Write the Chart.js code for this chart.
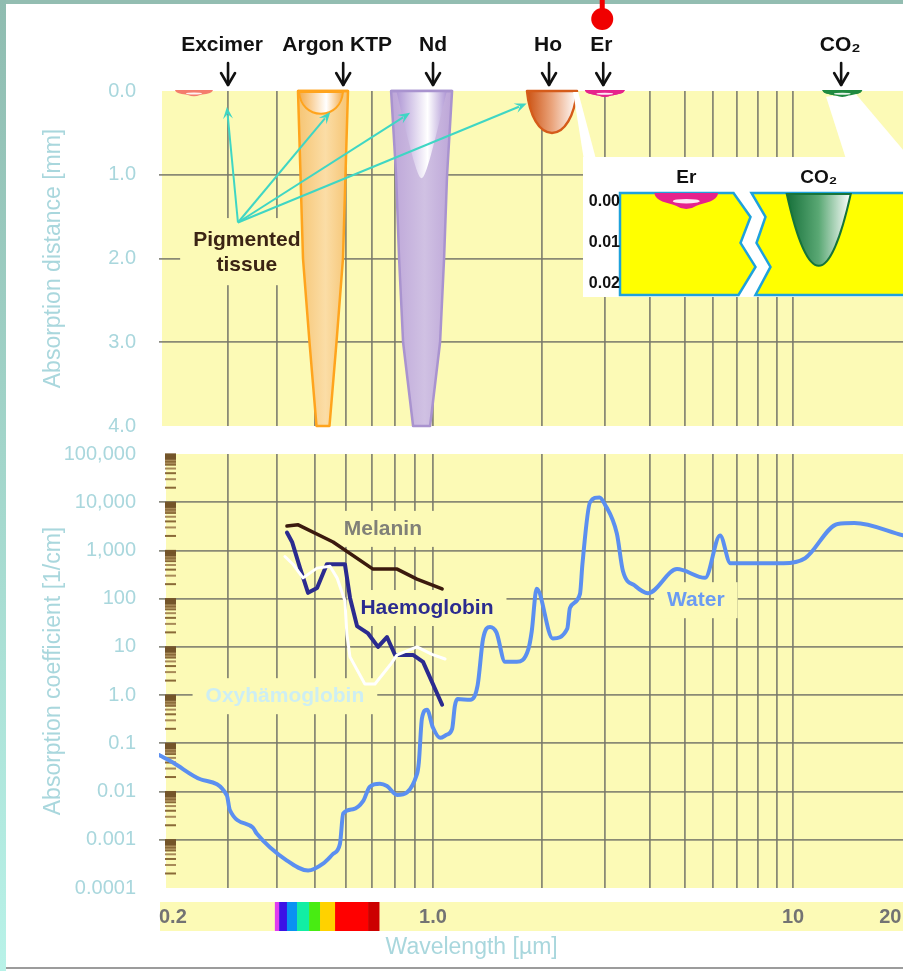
<!DOCTYPE html>
<html><head><meta charset="utf-8">
<script src="https://cdn.jsdelivr.net/npm/chart.js@4.4.1/dist/chart.umd.js"></script>
<style>
html,body{margin:0;padding:0;background:#fff;width:903px;height:971px;overflow:hidden;}
body{position:relative;}
canvas{position:absolute;}
.fr{position:absolute;}
</style></head><body>
<div class="fr" style="left:0;top:0;width:903px;height:4px;background:#93bdb1"></div>
<div class="fr" style="left:0;top:0;width:6px;height:971px;background:linear-gradient(#8fbcb0,#b8f2e8)"></div>
<div class="fr" style="left:6px;top:967px;width:897px;height:2px;background:#9c9c9c"></div>
<canvas id="cTop" width="903" height="440" style="left:0;top:0"></canvas>
<canvas id="cBottom" width="903" height="531" style="left:0;top:440px"></canvas>
<canvas id="cInset" width="320" height="140" style="left:583px;top:157px;background:#fff"></canvas>
<script>
// ---------------- DATA ----------------
const xGridValues = [0.3,0.4,0.5,0.6,0.7,0.8,0.9,1,2,3,4,5,6,7,8,9,10];
const xLabelValues = [0.2, 1, 10, 20];
const xLabelTexts = ['0.2', '1.0', '10', '20'];

const depthTicks = [0, 1, 2, 3, 4];
const depthLabels = ['0.0', '1.0', '2.0', '3.0', '4.0'];

const absTicks = [1e-4, 1e-3, 1e-2, 1e-1, 1, 10, 100, 1000, 10000, 100000];
const absLabels = ['0.0001','0.001','0.01','0.1','1.0','10','100','1,000','10,000','100,000'];

const waterWl = [0.2,0.217,0.255,0.298,0.303,0.347,0.355,0.424,0.48,0.524,0.556,0.579,0.59,0.625,0.663,0.69,0.732,0.763,0.81,0.91,0.92,0.937,0.965,1.0,1.046,1.09,1.13,1.15,1.17,1.27,1.33,1.377,1.44,1.5,1.585,1.71,1.84,1.88,1.94,2.15,2.36,2.4,2.56,2.6,2.73,2.9,3.0,3.24,3.37,3.64,3.95,4.76,5.7,6.27,6.7,9.4,10.8,13.3,14.8,20.2];
const waterAbs = [0.057,0.04,0.018,0.0083,0.0042,0.0018,0.00135,0.00037,0.00023,0.00032,0.00051,0.00083,0.0035,0.0043,0.0063,0.0126,0.0145,0.013,0.0085,0.023,0.04,0.33,0.5,0.21,0.13,0.15,0.2,0.6,0.83,0.8,1.6,14.6,26,20,4.9,4.9,9,21,160,15,24,64,126,520,10000,12600,9100,2240,370,185,130,410,270,2050,540,540,690,3550,3700,2050];

const haemoWl = [0.424,0.437,0.458,0.48,0.506,0.536,0.596,0.614,0.64,0.683,0.724,0.763,0.8,0.889,0.943,1.06];
const haemoAbs = [2350,1500,430,132,167,520,520,105,27,19,10,16,6.8,6.8,4.9,0.63];

const melaninWl = [0.424,0.453,0.556,0.703,0.81,0.91,1.06];
const melaninAbs = [3200,3400,1500,410,410,255,160];

const oxyWl = [0.419,0.44,0.466,0.506,0.546,0.569,0.596,0.603,0.614,0.67,0.711,0.777,0.81,0.91,0.994,1.08];
const oxyAbs = [750,510,270,430,470,270,91,18,6.2,1.7,1.7,4.2,6.8,10,7,5.6];

const laserNames = ['Excimer','Argon KTP','Nd','Ho','Er','CO\u2082'];
const laserWl = [0.30, 0.59, 1.0, 2.1, 2.97, 13.6];
const spotWl = [0.2456, 0.524, 0.935, 2.14, 3.0, 13.7];
const penetration = [0.07, 4.0, 4.0, 0.5, 0.08, 0.08];
const pigmentDepth = [0, 0.26, 1.03, 0, 0, 0];

const spectrumEdges = [0.395,0.405,0.424,0.45,0.483,0.515,0.5625,0.683,0.728];
const spectrumColors = ['#e03cf0','#3c12e6','#0a92f2','#12eea4','#48ec12','#ffd200','#ff0000','#cc0000'];

const insetLabels = ['Er', 'CO\u2082'];
const insetDepth = [0.0042, 0.0176];
const insetTicks = [0, 0.01, 0.02];
const insetTickLabels = ['0.00', '0.01', '0.02'];

// ---------------- STYLE / ANNOTATIONS ----------------
const FONT = "'Liberation Sans', Arial, Helvetica, sans-serif";
const YELLOW = '#fcfab6';
const GRID = 'rgba(118,118,106,0.85)';
const NONE = 'rgba(0,0,0,0)';
const TICK_BLUE = '#a9d7dd';

const laserStyle = [
  {kind:'cap', color:'#f47d6d', hw:19, dx:-6},
  {kind:'cone', hws:[25,22.5,20,13.5,6.5], body:['#f6c574','#fbdda6'], edge:'#ffa41d', bowl:['#f4ab48','#ffffff'], bowlHw:22, bowlShape:[0.95,0.55], bowlDx:-2, dx:-6},
  {kind:'cone', hws:[30.5,25.5,22.5,18.5,8.5], body:['#bda6d8','#d0c1e3'], edge:'#a993cf', bowl:['#b098d5','#ffffff'], bowlHw:25, bowlShape:[0.5,0.18], bowlDx:0, dx:0},
  {kind:'bowl', hw:25, colors:['#cc5212','#eaa47c','#ffffff'], edge:'#d55b1a', shape:[0.9,0.5], dx:-1},
  {kind:'cap', color:'#e6238c', hw:20, dx:-2},
  {kind:'cap', color:'#1f8a40', hw:20, dx:-1}
];
const pigmentLabel = {lines:['Pigmented','tissue'], x:0.335, y:[1.78, 2.08]};
const pigmentOrigin = {x:0.318, y:1.57};
const pigmentTips = [{x:0.298,y:0.19},{x:0.547,y:0.25},{x:0.874,y:0.26},{x:1.82,y:0.15}];
const calloutPolys = [
  [[2.45,0.012],[2.53,0.012],[2.83,0.8],[2.62,0.8]],
  [[12.35,0.07],[14.9,0.03],[20.2,0.7],[20.2,0.8],[14.0,0.8]]
];
const lowerLabels = [
  {text:'Melanin', x:0.745, y:2800, color:'#808078'},
  {text:'Haemoglobin', x:0.965, y:64, color:'#2b2b8f'},
  {text:'Oxyh\u00e4moglobin', x:0.419, y:0.95, color:'#cdeef4'},
  {text:'Water', x:5.37, y:93, color:'#6b9bf2'}
];
const xTitle = {text:'Wavelength [\u00b5m]', x:1.28};
const rugMultipliers = [2,3,4,5,6,6.5,7,7.5,8,8.5,9,9.3,9.6,9.8];

// ---------------- warped log scale (log axis with a finer decade below 1 µm) ----------------
class WarpLogScale extends Chart.LogarithmicScale {
  static id = 'warplog';
  static defaults = Chart.LogarithmicScale.defaults;
  _warp(v) { const l = Math.log10(v); return l < 0 ? l * 392 : l * 360; }
  getPixelForValue(v) {
    if (v === undefined || v === null || isNaN(v) || v <= 0) return NaN;
    const a = this._warp(this.min), b = this._warp(this.max);
    return this.getPixelForDecimal((this._warp(v) - a) / (b - a));
  }
  getValueForPixel(p) {
    const a = this._warp(this.min), b = this._warp(this.max);
    const w = a + this.getDecimalForPixel(p) * (b - a);
    return Math.pow(10, w < 0 ? w / 392 : w / 360);
  }
}
Chart.register(WarpLogScale);

const xy = (xs, ys) => xs.map((x, i) => ({x, y: ys[i]}));
const noPad = s => { s.paddingLeft = 0; s.paddingRight = 0; s.paddingTop = 0; s.paddingBottom = 0; };

// ---------------- drawing helpers ----------------
function capPath(ctx, cx, y0, hw, h) {
  ctx.beginPath();
  ctx.moveTo(cx - hw, y0 - 1);
  ctx.lineTo(cx + hw, y0 - 1);
  ctx.bezierCurveTo(cx + hw*0.95, y0 + h*0.45, cx + hw*0.6, y0 + h*0.5, cx + hw*0.32, y0 + h*0.68);
  ctx.quadraticCurveTo(cx, y0 + h*1.08, cx - hw*0.32, y0 + h*0.68);
  ctx.bezierCurveTo(cx - hw*0.6, y0 + h*0.5, cx - hw*0.95, y0 + h*0.45, cx - hw, y0 - 1);
  ctx.closePath();
}
function drawCap(ctx, cx, y0, hw, h, color) {
  capPath(ctx, cx, y0, hw, h);
  ctx.fillStyle = color; ctx.fill();
  ctx.fillStyle = 'rgba(255,255,255,0.9)';
  ctx.beginPath(); ctx.ellipse(cx, y0 + h*0.42, hw*0.42, Math.max(1, h*0.13), 0, 0, Math.PI*2); ctx.fill();
}
function bowlPath(ctx, cx, y0, hw, h, s, dx) {
  dx = dx || 0;
  ctx.beginPath();
  ctx.moveTo(cx - hw, y0);
  ctx.lineTo(cx + hw, y0);
  ctx.bezierCurveTo(cx + hw*s[0], y0 + h*0.6, cx + hw*s[1], y0 + h, cx + dx, y0 + h);
  ctx.bezierCurveTo(cx - hw*s[1], y0 + h, cx - hw*s[0], y0 + h*0.6, cx - hw, y0);
  ctx.closePath();
}
function hGrad(ctx, x0, x1, stops) {
  const g = ctx.createLinearGradient(x0, 0, x1, 0);
  stops.forEach(([o, c]) => g.addColorStop(o, c));
  return g;
}
function arrowLine(ctx, x0, y0, x1, y1, color) {
  const ang = Math.atan2(y1 - y0, x1 - x0), L = 12, W = 5;
  ctx.strokeStyle = color; ctx.fillStyle = color; ctx.lineWidth = 2;
  ctx.beginPath(); ctx.moveTo(x0, y0); ctx.lineTo(x1 - Math.cos(ang)*L*0.7, y1 - Math.sin(ang)*L*0.7); ctx.stroke();
  ctx.beginPath();
  ctx.moveTo(x1, y1);
  ctx.lineTo(x1 - Math.cos(ang)*L + Math.sin(ang)*W, y1 - Math.sin(ang)*L - Math.cos(ang)*W);
  ctx.lineTo(x1 - Math.cos(ang)*L*0.6, y1 - Math.sin(ang)*L*0.6);
  ctx.lineTo(x1 - Math.cos(ang)*L - Math.sin(ang)*W, y1 - Math.sin(ang)*L + Math.cos(ang)*W);
  ctx.closePath(); ctx.fill();
}

// ---------------- TOP CHART ----------------
const topPlugin = {
  id: 'topDecor',
  beforeDraw(chart) {
    const {ctx, chartArea: a} = chart;
    ctx.save(); ctx.fillStyle = YELLOW;
    ctx.fillRect(a.left + 3, a.top, a.right - a.left - 3, a.bottom - a.top);
    ctx.restore();
  },
  afterDraw(chart) {
    const {ctx} = chart; const xs = chart.scales.x, ys = chart.scales.y;
    const X = v => xs.getPixelForValue(v), Y = v => ys.getPixelForValue(v);
    const y0 = Y(0);
    ctx.save();
    ctx.font = `bold 21px ${FONT}`;
    const lx = X(pigmentLabel.x);
    const lw = Math.max(...pigmentLabel.lines.map(t => ctx.measureText(t).width));
    const yA = Y(pigmentLabel.y[0]), yB = Y(pigmentLabel.y[1]);
    ctx.fillStyle = YELLOW;
    ctx.fillRect(lx - lw/2 - 13, yA - 22, lw + 26, yB - yA + 42);
    ctx.fillStyle = '#3b2414'; ctx.textAlign = 'center'; ctx.textBaseline = 'middle';
    ctx.fillText(pigmentLabel.lines[0], lx, yA);
    ctx.fillText(pigmentLabel.lines[1], lx, yB);

    laserStyle.forEach((st, i) => {
      const cx = X(spotWl[i]);
      const h = Y(penetration[i]) - y0;
      if (st.kind === 'cap') {
        drawCap(ctx, cx, y0, st.hw, Math.max(h, 5), st.color);
      } else if (st.kind === 'cone') {
        const fr = [0, 0.25, 0.5, 0.75, 1];
        ctx.beginPath();
        fr.forEach((f, k) => { const px = cx - st.hws[k], py = Y(f*penetration[i]); k ? ctx.lineTo(px, py) : ctx.moveTo(px, py); });
        for (let k = fr.length - 1; k >= 0; k--) ctx.lineTo(cx + st.hws[k], Y(fr[k]*penetration[i]));
        ctx.closePath();
        ctx.fillStyle = hGrad(ctx, cx - st.hws[0], cx + st.hws[0], [[0, st.body[0]],[0.55, st.body[1]],[1, st.body[0]]]);
        ctx.fill();
        ctx.strokeStyle = st.edge; ctx.lineWidth = 2.5; ctx.lineJoin = 'round'; ctx.stroke();
        const bh = Y(pigmentDepth[i]) - y0;
        const bx = cx + st.bowlDx;
        bowlPath(ctx, bx, y0 + 1, st.bowlHw, bh, st.bowlShape);
        ctx.fillStyle = hGrad(ctx, bx - st.bowlHw, bx + st.bowlHw, [[0, st.bowl[0]],[0.62, st.bowl[1]],[1, st.bowl[0]]]);
        ctx.fill();
        if (i === 1) { ctx.strokeStyle = st.edge; ctx.lineWidth = 2; ctx.stroke(); }
        ctx.beginPath(); ctx.moveTo(cx - st.hws[0], y0); ctx.lineTo(cx + st.hws[0], y0);
        ctx.strokeStyle = st.edge; ctx.lineWidth = 2.5; ctx.stroke();
      } else {
        bowlPath(ctx, cx, y0, st.hw, h, st.shape);
        ctx.fillStyle = hGrad(ctx, cx - st.hw, cx + st.hw, [[0, st.colors[0]],[0.5, st.colors[1]],[1, st.colors[2]]]);
        ctx.fill();
        ctx.strokeStyle = st.edge; ctx.lineWidth = 2.5; ctx.stroke();
      }
    });

    const ox = X(pigmentOrigin.x), oy = Y(pigmentOrigin.y);
    pigmentTips.forEach(t => arrowLine(ctx, ox, oy, X(t.x), Y(t.y), '#3fd6c4'));

    ctx.fillStyle = '#ffffff';
    calloutPolys.forEach(poly => {
      ctx.beginPath();
      poly.forEach(([wx, d], k) => { const px = X(wx), py = Y(d); k ? ctx.lineTo(px, py) : ctx.moveTo(px, py); });
      ctx.closePath(); ctx.fill();
    });
    [4, 5].forEach(i => drawCap(ctx, X(spotWl[i]), y0, laserStyle[i].hw, Math.max(Y(penetration[i]) - y0, 5), laserStyle[i].color));

    ctx.font = `bold 21px ${FONT}`; ctx.strokeStyle = '#111';
    ctx.textAlign = 'center'; ctx.textBaseline = 'middle';
    laserNames.forEach((name, i) => {
      const ax = X(laserWl[i]);
      ctx.fillStyle = '#111';
      ctx.fillText(name, ax + laserStyle[i].dx, 45);
      ctx.lineWidth = 2.6; ctx.lineCap = 'round';
      ctx.beginPath(); ctx.moveTo(ax, 63); ctx.lineTo(ax, 85); ctx.stroke();
      ctx.beginPath(); ctx.moveTo(ax - 7, 73); ctx.lineTo(ax, 85); ctx.lineTo(ax + 7, 73); ctx.stroke();
    });
    const rx = X(laserWl[4]);
    ctx.fillStyle = '#f00000'; ctx.strokeStyle = '#f00000'; ctx.lineWidth = 5; ctx.lineCap = 'butt';
    ctx.beginPath(); ctx.moveTo(rx - 1, 0); ctx.lineTo(rx - 1, 12); ctx.stroke();
    ctx.beginPath(); ctx.arc(rx - 1, 19, 11, 0, Math.PI*2); ctx.fill();
    ctx.restore();
  }
};

new Chart(document.getElementById('cTop'), {
  type: 'line',
  data: { datasets: [] },
  options: {
    responsive: false, animation: false, events: [],
    layout: { padding: { top: 91, bottom: 14, left: 0, right: 0 } },
    plugins: { legend: { display: false }, tooltip: { enabled: false } },
    scales: {
      x: {
        type: 'warplog', min: 0.2, max: 20.2,
        afterBuildTicks: s => { s.ticks = xGridValues.map(v => ({value: v})); },
        afterFit: s => { s.height = 0; noPad(s); },
        ticks: { display: false },
        grid: { color: GRID, lineWidth: 1.8, drawTicks: false },
        border: { display: false }
      },
      y: {
        type: 'linear', min: 0, max: 4, reverse: true,
        afterBuildTicks: s => { s.ticks = depthTicks.map(v => ({value: v})); },
        afterFit: s => { s.width = 159; noPad(s); },
        grid: { color: c => (c.index === 0 || c.index === depthTicks.length - 1) ? NONE : GRID, lineWidth: 1.8, drawTicks: false },
        border: { display: false },
        ticks: { padding: 23, color: TICK_BLUE, font: { family: FONT, size: 20 }, callback: (v, i) => depthLabels[i] },
        title: { display: true, text: 'Absorption distance [mm]', color: TICK_BLUE, font: { family: FONT, size: 23 }, padding: { top: 40, bottom: 0 } }
      }
    }
  },
  plugins: [topPlugin]
});

// ---------------- BOTTOM CHART ----------------
const bottomPlugin = {
  id: 'bottomDecor',
  beforeDraw(chart) {
    const {ctx, chartArea: a} = chart; const xs = chart.scales.x;
    ctx.save();
    ctx.fillStyle = YELLOW;
    ctx.fillRect(a.left + 7, a.top, a.right - a.left - 7, a.bottom - a.top);
    ctx.fillRect(a.left + 1, a.bottom + 14, a.right - a.left - 1, 29);
    for (let i = 0; i < spectrumColors.length; i++) {
      const x0 = xs.getPixelForValue(spectrumEdges[i]), x1 = xs.getPixelForValue(spectrumEdges[i+1]);
      ctx.fillStyle = spectrumColors[i];
      ctx.fillRect(x0, a.bottom + 14, x1 - x0 + 0.5, 29);
    }
    ctx.restore();
  },
  beforeDatasetsDraw(chart) {
    const {ctx, chartArea: a} = chart; const xs = chart.scales.x, ys = chart.scales.y;
    ctx.save();
    for (let n = -4; n < 5; n++) {
      rugMultipliers.forEach((k, j) => {
        const py = ys.getPixelForValue(k * Math.pow(10, n));
        ctx.fillStyle = j >= 8 ? '#74552a' : (j % 2 ? '#a88a58' : '#8a6a38');
        ctx.fillRect(a.left + 6, py - 1, 11, 2);
      });
    }
    ctx.font = `bold 21px ${FONT}`; ctx.textAlign = 'center'; ctx.textBaseline = 'middle';
    lowerLabels.forEach(l => {
      const px = xs.getPixelForValue(l.x), py = ys.getPixelForValue(l.y);
      const w = ctx.measureText(l.text).width;
      ctx.fillStyle = YELLOW; ctx.fillRect(px - w/2 - 13, py - 18, w + 26, 36);
      ctx.fillStyle = l.color; ctx.fillText(l.text, px, py);
    });
    ctx.restore();
  },
  afterDraw(chart) {
    const {ctx, chartArea: a} = chart; const xs = chart.scales.x;
    ctx.save();
    ctx.font = `23px ${FONT}`; ctx.fillStyle = TICK_BLUE; ctx.textAlign = 'center'; ctx.textBaseline = 'middle';
    ctx.fillText(xTitle.text, xs.getPixelForValue(xTitle.x), a.bottom + 60);
    ctx.restore();
  }
};

new Chart(document.getElementById('cBottom'), {
  type: 'line',
  data: {
    datasets: [
      { label: 'Oxyhämoglobin', data: xy(oxyWl, oxyAbs), borderColor: '#ffffff', borderWidth: 3 },
      { label: 'Melanin', data: xy(melaninWl, melaninAbs), borderColor: '#3b1a0e', borderWidth: 3.5 },
      { label: 'Haemoglobin', data: xy(haemoWl, haemoAbs), borderColor: '#2b2b8f', borderWidth: 4 },
      { label: 'Water', data: xy(waterWl, waterAbs), borderColor: '#5b8ff0', borderWidth: 4, cubicInterpolationMode: 'monotone' }
    ]
  },
  options: {
    responsive: false, animation: false, events: [],
    layout: { padding: { top: 14, bottom: 0, left: 0, right: 0 } },
    elements: { point: { radius: 0 }, line: { borderCapStyle: 'round', borderJoinStyle: 'round', tension: 0 } },
    plugins: { legend: { display: false }, tooltip: { enabled: false } },
    scales: {
      x: {
        type: 'warplog', min: 0.2, max: 20.2,
        afterBuildTicks: s => { s.ticks = [0.2, ...xGridValues, 20].map(v => ({value: v})); },
        afterFit: s => { s.height = 83; noPad(s); },
        grid: { color: c => (c.tick && (c.tick.value === 0.2 || c.tick.value === 20)) ? NONE : GRID, lineWidth: 1.8, drawTicks: false },
        border: { display: false },
        ticks: {
          autoSkip: false, maxRotation: 0, minRotation: 0, align: 'inner', padding: 17,
          color: '#737373', font: { family: FONT, size: 20, weight: 'bold' },
          callback: v => { const i = xLabelValues.indexOf(v); return i >= 0 ? xLabelTexts[i] : ''; }
        }
      },
      y: {
        type: 'logarithmic', min: 1e-4, max: 1e5,
        afterBuildTicks: s => { s.ticks = absTicks.map(v => ({value: v})); },
        afterFit: s => { s.width = 159; noPad(s); },
        grid: { color: c => (c.index === 0 || c.index === absTicks.length - 1) ? NONE : GRID, lineWidth: 1.8, drawTicks: false },
        border: { display: false },
        ticks: { autoSkip: false, padding: 23, color: TICK_BLUE, font: { family: FONT, size: 20 }, callback: (v, i) => absLabels[i] },
        title: { display: true, text: 'Absorption coefficient [1/cm]', color: TICK_BLUE, font: { family: FONT, size: 23 }, padding: { top: 40, bottom: 0 } }
      }
    }
  },
  plugins: [bottomPlugin]
});

// ---------------- INSET (magnified Er / CO2) ----------------
const insetPlugin = {
  id: 'insetDecor',
  beforeDraw(chart) {
    const {ctx, chartArea: a, width: W} = chart; const xs = chart.scales.x;
    ctx.save();
    ctx.fillStyle = '#fff'; ctx.fillRect(0, 0, W, chart.height);
    const xm = (xs.getPixelForValue(0) + xs.getPixelForValue(1)) / 2;
    const H = a.bottom - a.top;
    const zl = [[-19,0],[-2,0.235],[-12,0.49],[3,0.725],[-14,1]];
    const zr = [[-1,0],[13,0.235],[4,0.49],[18,0.725],[3,1]];
    ctx.fillStyle = '#ffff00'; ctx.strokeStyle = '#1ea2dc'; ctx.lineWidth = 2.5; ctx.lineJoin = 'miter';
    ctx.beginPath(); ctx.moveTo(a.left, a.top);
    zl.forEach(([dx, f]) => ctx.lineTo(xm + dx, a.top + f*H));
    ctx.lineTo(a.left, a.bottom); ctx.closePath(); ctx.fill(); ctx.stroke();
    ctx.beginPath(); ctx.moveTo(W + 5, a.top);
    zr.forEach(([dx, f]) => ctx.lineTo(xm + dx, a.top + f*H));
    ctx.lineTo(W + 5, a.bottom); ctx.closePath(); ctx.fill(); ctx.stroke();
    ctx.restore();
  },
  afterDraw(chart) {
    const {ctx} = chart; const xs = chart.scales.x, ys = chart.scales.y;
    const y0 = ys.getPixelForValue(0);
    ctx.save();
    const ex = xs.getPixelForValue(0);
    drawCap(ctx, ex, y0 + 1, 32, ys.getPixelForValue(insetDepth[0]) - y0, '#e6238c');
    const cx = xs.getPixelForValue(1), h = ys.getPixelForValue(insetDepth[1]) - y0;
    bowlPath(ctx, cx, y0 + 1, 32, h, [0.7, 0.35]);
    ctx.fillStyle = hGrad(ctx, cx - 32, cx + 32, [[0,'#16703a'],[0.5,'#5aa874'],[1,'#ffffff']]);
    ctx.fill(); ctx.strokeStyle = '#17743a'; ctx.lineWidth = 2; ctx.stroke();
    ctx.restore();
  }
};

new Chart(document.getElementById('cInset'), {
  type: 'line',
  data: { labels: insetLabels, datasets: [] },
  options: {
    responsive: false, animation: false, events: [],
    layout: { padding: { top: 0, bottom: 2, left: 0, right: 18 } },
    plugins: { legend: { display: false }, tooltip: { enabled: false } },
    scales: {
      x: {
        type: 'category', position: 'top', offset: true,
        afterFit: s => { s.height = 36; noPad(s); },
        grid: { display: false, drawTicks: false }, border: { display: false },
        ticks: { padding: 4, color: '#111', font: { family: FONT, size: 19, weight: 'bold' } }
      },
      y: {
        type: 'linear', min: 0, max: 0.025, reverse: true,
        afterBuildTicks: s => { s.ticks = insetTicks.map(v => ({value: v})); },
        afterFit: s => { s.width = 37; noPad(s); },
        grid: { display: false, drawTicks: false }, border: { display: false },
        ticks: { padding: 0, labelOffset: 9, color: '#111', font: { family: FONT, size: 16, weight: 'bold' }, callback: (v, i) => insetTickLabels[i] }
      }
    }
  },
  plugins: [insetPlugin]
});
</script>
</body></html>
